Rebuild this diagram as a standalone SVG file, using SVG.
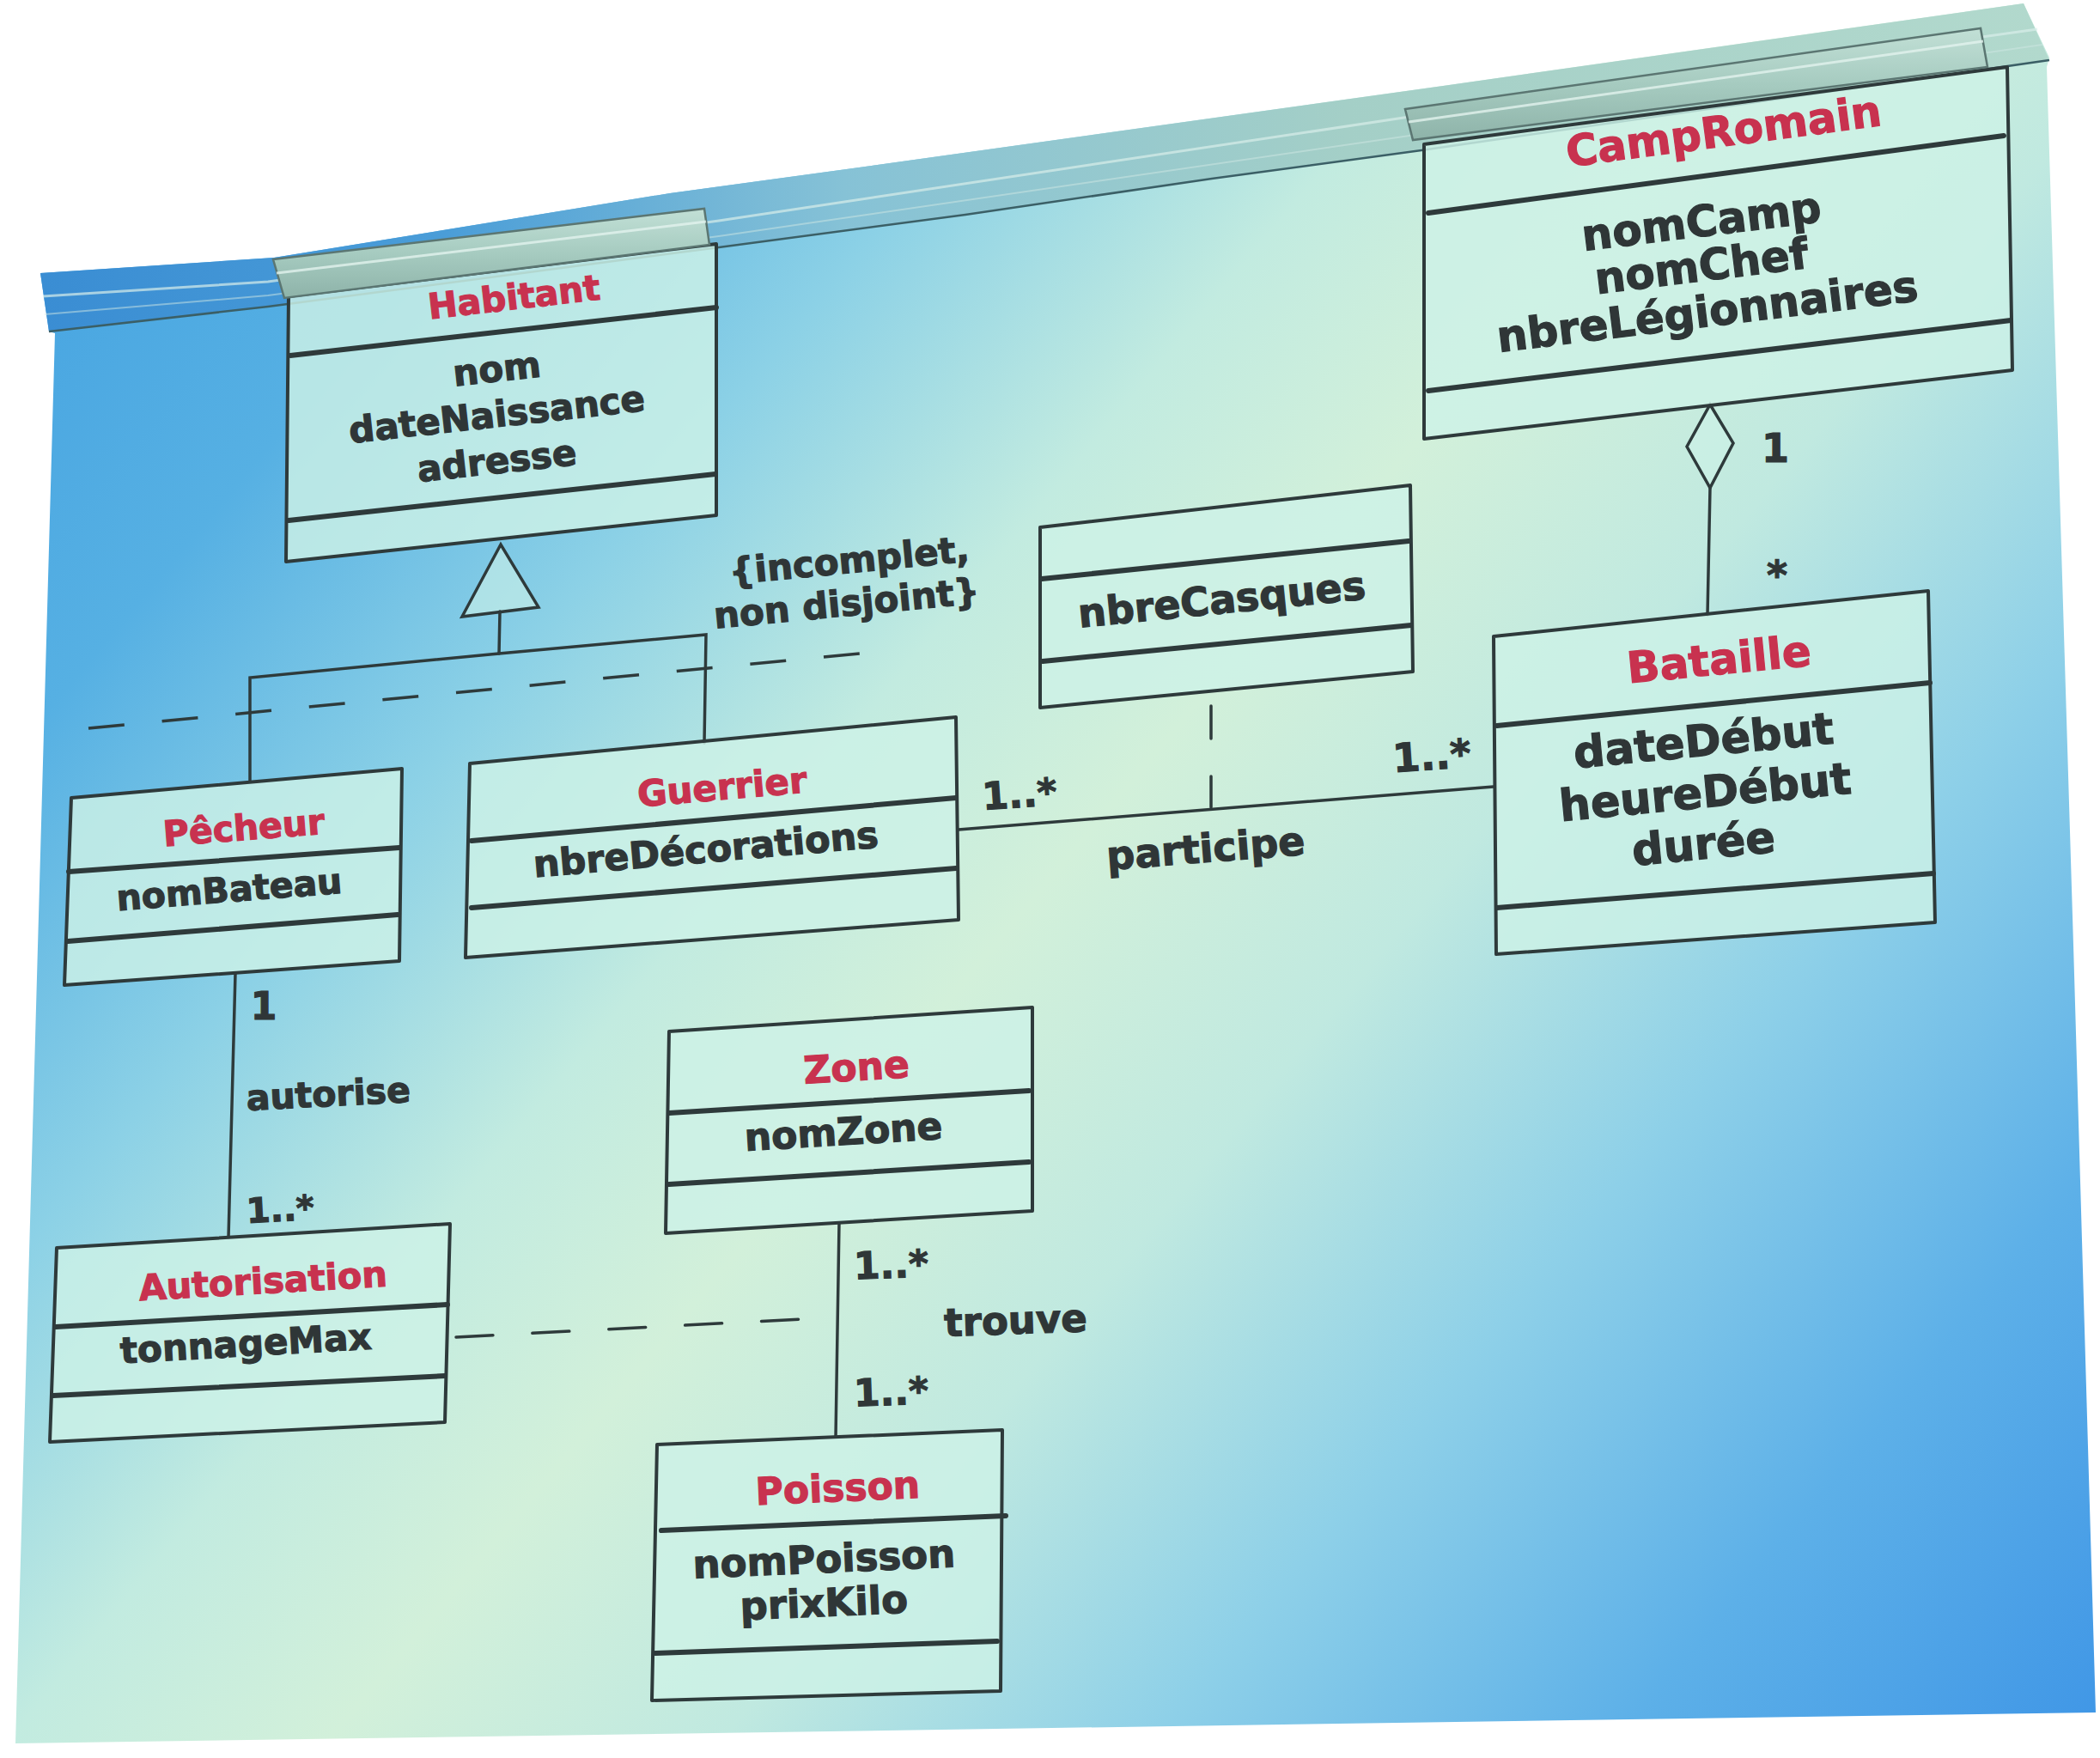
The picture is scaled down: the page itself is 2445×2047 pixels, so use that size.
<svg xmlns="http://www.w3.org/2000/svg" width="2445" height="2047" viewBox="0 0 2445 2047">
<defs>
<linearGradient id="paperGrad" gradientUnits="userSpaceOnUse" x1="0" y1="0" x2="2445" y2="2047">
<stop offset="0" stop-color="#3f9ee0"/>
<stop offset="0.18" stop-color="#56b0e3"/>
<stop offset="0.3" stop-color="#8cd1e6"/>
<stop offset="0.41" stop-color="#c2ebe0"/>
<stop offset="0.5" stop-color="#d2f0da"/>
<stop offset="0.61" stop-color="#c0e9e0"/>
<stop offset="0.73" stop-color="#8ed0e8"/>
<stop offset="0.86" stop-color="#5db0e8"/>
<stop offset="1" stop-color="#3e95e6"/>
</linearGradient>
<linearGradient id="bandGrad" gradientUnits="userSpaceOnUse" x1="47" y1="0" x2="2386" y2="0">
<stop offset="0" stop-color="#3a8dd3"/>
<stop offset="0.2" stop-color="#4a9dd8"/>
<stop offset="0.4" stop-color="#86c2d6"/>
<stop offset="0.65" stop-color="#a4cfc7"/>
<stop offset="1" stop-color="#b2d9cd"/>
</linearGradient>
<linearGradient id="clipGrad" x1="0" y1="0" x2="0" y2="1">
<stop offset="0" stop-color="#c2e0d6"/>
<stop offset="0.5" stop-color="#a6cbc0"/>
<stop offset="1" stop-color="#8eb3a9"/>
</linearGradient>
<style>
.box{fill:#cdf1e7;fill-opacity:0.82;stroke:#2e3a3b;stroke-width:4;stroke-linejoin:round}
.sep{fill:none;stroke:#2e3a3b;stroke-width:6;stroke-linecap:round}
.clip{fill:url(#clipGrad);stroke:#5b7672;stroke-width:2.5}
.hl{fill:none;stroke:#e2f3ee;stroke-width:3;stroke-opacity:0.8}
.title{font-family:"DejaVu Sans","Liberation Sans",sans-serif;font-weight:bold;fill:#c8324f;stroke:#c8324f;stroke-width:1.2;text-anchor:middle}
.attr{font-family:"DejaVu Sans","Liberation Sans",sans-serif;font-weight:bold;fill:#2f3637;stroke:#2f3637;stroke-width:1.2;text-anchor:middle}
.lbl{font-family:"DejaVu Sans","Liberation Sans",sans-serif;font-weight:bold;fill:#2f3637;stroke:#2f3637;stroke-width:1.2;text-anchor:middle}
.conn{fill:none;stroke:#2e3a3b;stroke-width:3.5;stroke-linecap:round}
.dash{stroke-dasharray:42 44;stroke-linecap:butt}
.head{fill:#cdf1e7;fill-opacity:0.6;stroke:#2e3a3b;stroke-width:3.5;stroke-linejoin:miter}
</style>
</defs>
<rect x="0" y="0" width="2445" height="2047" fill="#ffffff"/>
<g id="paper">
<path d="M47,318 L319,300 L780,225 L1000,195 L1680,100 L2356,4 L2386,67 L2383,78 L2414,1100 L2440,1994 L18,2030 L64,388 L57,386 Z" fill="url(#paperGrad)"/>
<path d="M47,318 L319,300 L780,225 L1000,195 L1680,100 L2356,4 L2386,70 L1655,175 L1411,208 L1124,250 L837,288 L312,357 L57,386 Z" fill="url(#bandGrad)"/>
<path d="M50,345 L312,328 L837,257 L1641,136 L2372,34" fill="none" stroke="#d8eeea" stroke-width="3" stroke-opacity="0.7"/>
<path d="M52,366 L312,344 L837,275 L1641,158 L2378,52" fill="none" stroke="#cfe8e4" stroke-width="2" stroke-opacity="0.5"/>
<path d="M57,386 L312,357 L837,288 L1124,250 L1411,208 L1655,175 L2386,70" fill="none" stroke="#3b5f66" stroke-width="2.5"/>
</g>
<g id="connectors">
<polygon class="head" points="583,634 538,718 627,707"/>
<path class="conn" d="M582,712 L581,761"/>
<path class="conn" d="M291,910 L291,789 L581,761 L822,739 L820,865"/>
<path class="conn dash" d="M103,848 L1010,760"/>
<path class="conn" d="M1116,966 L1739,916"/>
<path class="conn" d="M1410,822 L1410,940" style="stroke-dasharray:38 44"/>
<polygon class="head" points="1991,471 2018,516 1991,568 1964,520"/>
<path class="conn" d="M1991,568 L1988,716"/>
<path class="conn" d="M274,1133 L266,1441"/>
<path class="conn" d="M977,1424 L973,1673"/>
<path class="conn" d="M531,1557 L933,1536" style="stroke-dasharray:43 46"/>
<text class="lbl" x="990" y="667" font-size="42" transform="rotate(-5.5 990 667)">{incomplet,</text>
<text class="lbl" x="987" y="717" font-size="42" transform="rotate(-5.5 987 717)">non disjoint}</text>
<text class="lbl" x="1188" y="940" font-size="44" transform="rotate(-4 1188 940)">1..*</text>
<text class="lbl" x="1668" y="896" font-size="46" transform="rotate(-4 1668 896)">1..*</text>
<text class="lbl" x="1405" y="1004" font-size="46" transform="rotate(-4.5 1405 1004)">participe</text>
<text class="lbl" x="2067" y="538" font-size="46">1</text>
<text class="lbl" x="2069" y="686" font-size="46">*</text>
<text class="lbl" x="307" y="1187" font-size="44">1</text>
<text class="lbl" x="383" y="1288" font-size="41" transform="rotate(-3 383 1288)">autorise</text>
<text class="lbl" x="327" y="1422" font-size="40" transform="rotate(-3 327 1422)">1..*</text>
<text class="lbl" x="1038" y="1488" font-size="44" transform="rotate(-2 1038 1488)">1..*</text>
<text class="lbl" x="1183" y="1553" font-size="45" transform="rotate(-2 1183 1553)">trouve</text>
<text class="lbl" x="1038" y="1636" font-size="44" transform="rotate(-2 1038 1636)">1..*</text>
</g>
<g id="habitant">
<polygon class="box" points="336,345 834,284 834,600 333,654"/>
<polygon class="clip" points="318,302 820,243 826,285 331,347"/>
<path class="hl" d="M322,318 L822,258"/>
<path class="sep" d="M338,414 L834,358"/>
<path class="sep" d="M336,606 L833,552"/>
<text class="title" x="600" y="360" font-size="41" transform="rotate(-6.5 600 360)">Habitant</text>
<text class="attr" x="580" y="444" font-size="42" transform="rotate(-6.3 580 444)">nom</text>
<text class="attr" x="580" y="497" font-size="42" transform="rotate(-6.3 580 497)">dateNaissance</text>
<text class="attr" x="580" y="551" font-size="42" transform="rotate(-6.3 580 551)">adresse</text>
</g>
<g id="camp-romain">
<polygon class="box" points="1658,168 2337,78 2343,431 1658,511"/>
<polygon class="clip" points="1636,127 2306,33 2314,78 1645,163"/>
<path class="hl" d="M1640,142 L2309,48"/>
<path class="sep" d="M1663,248 L2333,158"/>
<path class="sep" d="M1663,455 L2341,373"/>
<text class="title" x="2009" y="170" font-size="50" transform="rotate(-7.5 2009 170)">CampRomain</text>
<text class="attr" x="1983" y="275" font-size="50" transform="rotate(-7 1983 275)">nomCamp</text>
<text class="attr" x="1983" y="327" font-size="50" transform="rotate(-7 1983 327)">nomChef</text>
<text class="attr" x="1990" y="380" font-size="50" transform="rotate(-7 1990 380)">nbreLégionnaires</text>
</g>
<g id="nbre-casques">
<polygon class="box" points="1211,614 1642,565 1645,782 1211,824"/>
<path class="sep" d="M1213,674 L1640,630"/>
<path class="sep" d="M1214,770 L1643,728"/>
<text class="attr" x="1424" y="714" font-size="46" transform="rotate(-5.7 1424 714)">nbreCasques</text>
</g>
<g id="bataille">
<polygon class="box" points="1739,741 2245,688 2253,1074 1742,1111"/>
<path class="sep" d="M1743,845 L2247,795"/>
<path class="sep" d="M1743,1057 L2251,1017"/>
<text class="title" x="2003" y="785" font-size="50" transform="rotate(-5.5 2003 785)">Bataille</text>
<text class="attr" x="1985" y="880" font-size="51" transform="rotate(-5.5 1985 880)">dateDébut</text>
<text class="attr" x="1987" y="940" font-size="51" transform="rotate(-5.5 1987 940)">heureDébut</text>
<text class="attr" x="1985" y="1000" font-size="51" transform="rotate(-5.5 1985 1000)">durée</text>
</g>
<g id="guerrier">
<polygon class="box" points="547,889 1113,835 1116,1071 542,1115"/>
<path class="sep" d="M549,979 L1113,929"/>
<path class="sep" d="M549,1057 L1113,1011"/>
<text class="title" x="842" y="931" font-size="42" transform="rotate(-5 842 931)">Guerrier</text>
<text class="attr" x="823" y="1004" font-size="43" transform="rotate(-5 823 1004)">nbreDécorations</text>
</g>
<g id="pecheur">
<polygon class="box" points="83,929 468,895 465,1119 75,1147"/>
<path class="sep" d="M80,1015 L465,987"/>
<path class="sep" d="M79,1096 L463,1065"/>
<text class="title" x="285" y="978" font-size="41" transform="rotate(-4.5 285 978)">Pêcheur</text>
<text class="attr" x="268" y="1050" font-size="41" transform="rotate(-4.5 268 1050)">nomBateau</text>
</g>
<g id="zone">
<polygon class="box" points="779,1201 1202,1173 1202,1410 775,1436"/>
<path class="sep" d="M779,1296 L1198,1270"/>
<path class="sep" d="M779,1379 L1198,1353"/>
<text class="title" x="998" y="1258" font-size="44" transform="rotate(-3.5 998 1258)">Zone</text>
<text class="attr" x="983" y="1333" font-size="44" transform="rotate(-3.5 983 1333)">nomZone</text>
</g>
<g id="autorisation">
<polygon class="box" points="66,1453 524,1425 518,1656 58,1679"/>
<path class="sep" d="M65,1545 L521,1519"/>
<path class="sep" d="M62,1625 L518,1602"/>
<text class="title" x="307" y="1506" font-size="41.5" transform="rotate(-3.3 307 1506)">Autorisation</text>
<text class="attr" x="287" y="1579" font-size="42" transform="rotate(-3.3 287 1579)">tonnageMax</text>
</g>
<g id="poisson">
<polygon class="box" points="765,1682 1167,1665 1165,1969 759,1980"/>
<path class="sep" d="M770,1782 L1171,1765"/>
<path class="sep" d="M763,1925 L1161,1911"/>
<text class="title" x="976" y="1748" font-size="44" transform="rotate(-2.5 976 1748)">Poisson</text>
<text class="attr" x="960" y="1831" font-size="45" transform="rotate(-2.5 960 1831)">nomPoisson</text>
<text class="attr" x="960" y="1882" font-size="45" transform="rotate(-2.5 960 1882)">prixKilo</text>
</g>
</svg>
